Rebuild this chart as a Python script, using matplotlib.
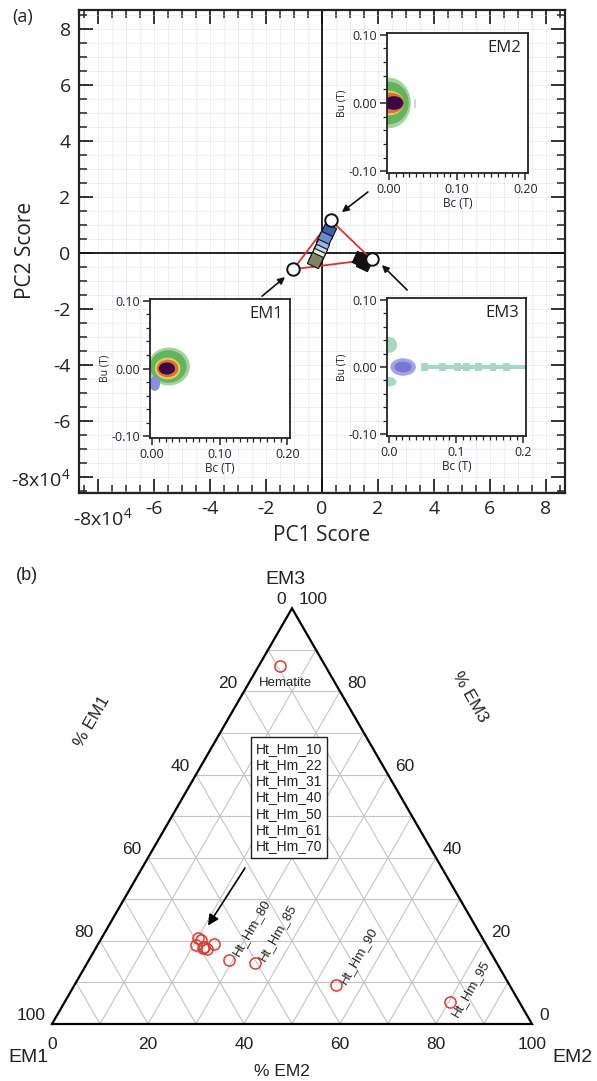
import numpy as np
import matplotlib
matplotlib.use("Agg")
import matplotlib.pyplot as plt
from matplotlib.patches import Ellipse, Rectangle
from matplotlib.ticker import MultipleLocator

plt.rcParams['mathtext.fontset'] = 'custom'
plt.rcParams['mathtext.rm'] = 'Open Sans'
plt.rcParams['mathtext.it'] = 'Open Sans'
plt.rcParams['mathtext.bf'] = 'Open Sans'

FA = ['Open Sans', 'DejaVu Sans']
FB = ['Liberation Sans', 'DejaVu Sans']

# ---------------- data: panel (a) ----------------
em_names = ['EM1', 'EM2', 'EM3']
em_pc1 = [-1.02, 0.31, 1.77]
em_pc2 = [-0.58, 1.18, -0.23]

sample_pc1 = [0.23, 0.08, -0.05, -0.12, -0.18, -0.24, 1.36, 1.50]
sample_pc2 = [0.80, 0.50, 0.22, 0.02, -0.12, -0.24, -0.20, -0.34]
sample_col = ['#3d5db0', '#6a8cd2', '#98b4e4', '#c5d6f0', '#e4ecdc', '#7f8462', '#111111', '#111111']

main_ticks = [-8, -6, -4, -2, 0, 2, 4, 6, 8]
main_ylabels = ['-8x10$^{4}$', '-6', '-4', '-2', '0', '2', '4', '6', '8']
main_xlabels = ['', '-6', '-4', '-2', '0', '2', '4', '6', '8']

# arrows (tail -> tip) in PC space
arrow_tail_pc1 = [-2.14, 1.64, 3.04]
arrow_tail_pc2 = [-1.54, 2.18, -1.32]
arrow_tip_pc1 = [-1.32, 0.71, 2.14]
arrow_tip_pc2 = [-0.86, 1.46, -0.43]

# inset maps (Bc, Bu centres, half widths, colours)
em1_bc = [0.025, 0.024, 0.023, 0.023, 0.022, 0.004]
em1_bu = [0.003, 0.003, 0.0, 0.0, 0.0, -0.022]
em1_hw = [0.031, 0.027, 0.019, 0.016, 0.012, 0.008]
em1_hh = [0.028, 0.024, 0.016, 0.013, 0.009, 0.011]
em1_col = ['#a5d39a', '#5fb65c', '#e5d24c', '#df6e3a', '#3a0848', '#8c8ce0']

em2_bc = [0.0, 0.0, 0.0, 0.002, 0.007]
em2_bu = [0.0, 0.0, 0.0, 0.0, 0.0]
em2_hw = [0.032, 0.029, 0.022, 0.020, 0.014]
em2_hh = [0.037, 0.031, 0.018, 0.015, 0.010]
em2_col = ['#a5d39a', '#5fb65c', '#e5d24c', '#df6e3a', '#3a0848']

em3_bc = [0.021, 0.021, 0.0, 0.0]
em3_bu = [0.0, 0.0, 0.033, -0.022]
em3_hw = [0.019, 0.013, 0.012, 0.011]
em3_hh = [0.013, 0.008, 0.012, 0.007]
em3_col = ['#a3a3e6', '#7777d6', '#a6d9c4', '#a6d9c4']
em3_band = [0.048, 0.204]
em3_sq_bc = [0.053, 0.080, 0.102, 0.115, 0.133, 0.155, 0.175]

# ---------------- data: panel (b) ----------------
tern_names = ['Hematite', 'Ht_Hm_10', 'Ht_Hm_22', 'Ht_Hm_31', 'Ht_Hm_40', 'Ht_Hm_50',
              'Ht_Hm_61', 'Ht_Hm_70', 'Ht_Hm_80', 'Ht_Hm_85', 'Ht_Hm_90', 'Ht_Hm_95']
tern_em2 = [4.5, 20.1, 20.9, 20.5, 22.3, 23.3, 24.1, 22.4, 29.2, 34.9, 54.5, 80.3]
tern_em3 = [86.1, 20.7, 20.2, 19.0, 18.3, 18.0, 19.2, 18.5, 15.4, 14.7, 9.4, 5.3]
tern_em1 = [100 - a - b for a, b in zip(tern_em2, tern_em3)]
legend_names = tern_names[1:8]
tern_ticks = [0, 20, 40, 60, 80, 100]

W, H = 597, 1081
fig = plt.figure(figsize=(W / 100, H / 100), dpi=100)


def px_rect(x0, y0, x1, y1):
    return [x0 / W, 1 - y1 / H, (x1 - x0) / W, (y1 - y0) / H]


# ================= panel (a) =================
ax = fig.add_axes(px_rect(79, 10, 565, 493))
ax.set_xlim(-8.679, 8.679)
ax.set_ylim(-8.571, 8.679)
ax.set_xticks(main_ticks)
ax.set_yticks(main_ticks)
ax.set_xticklabels(main_xlabels, fontfamily=FA)
ax.set_yticklabels(main_ylabels, fontfamily=FA)
ax.xaxis.set_minor_locator(MultipleLocator(0.5))
ax.yaxis.set_minor_locator(MultipleLocator(0.5))
ax.tick_params(which='both', direction='in', top=True, right=True, color='#222222',
               labelcolor='#222222')
ax.tick_params(which='major', length=10, width=1.3, labelsize=14)
ax.tick_params(axis='y', which='major', pad=6)
ax.tick_params(axis='x', which='major', pad=5)
ax.tick_params(which='minor', length=6, width=1.1)
for s in ax.spines.values():
    s.set_linewidth(1.6)
    s.set_color('#222222')
ax.set_axisbelow(True)
ax.grid(which='both', color='#d6d9f0', linestyle=(0, (1.2, 1.2)), linewidth=0.6)
ax.axhline(0, color='#111111', lw=1.3, zorder=1)
ax.axvline(0, color='#111111', lw=1.3, zorder=1)

ax.annotate('-8x10$^{4}$', xy=(-7.82, 0), xycoords=('data', 'axes fraction'),
            xytext=(0, -18), textcoords='offset points', ha='center', va='center',
            fontsize=14, fontfamily=FA, color='#222222')
ax.set_xlabel('PC1 Score', fontsize=15, fontfamily=FA, color='#222222')
ax.set_ylabel('PC2 Score', fontsize=15, fontfamily=FA, color='#222222')
ax.xaxis.set_label_coords(0.5, -0.066)
ax.yaxis.set_label_coords(-0.088, 0.503)

tri_x = em_pc1 + [em_pc1[0]]
tri_y = em_pc2 + [em_pc2[0]]
ax.plot(tri_x, tri_y, color='#e0302a', lw=1.3, zorder=3)
for x, y, c in zip(sample_pc1, sample_pc2, sample_col):
    ax.plot(x, y, marker=(4, 0, 20), ms=12.5, mfc=c, mec='#111111', mew=0.8, ls='none', zorder=4)
ax.plot(em_pc1, em_pc2, 'o', ms=9, mfc='white', mec='#111111', mew=1.4, zorder=5)
for tx, ty, hx, hy in zip(arrow_tail_pc1, arrow_tail_pc2, arrow_tip_pc1, arrow_tip_pc2):
    ax.annotate('', xy=(hx, hy), xytext=(tx, ty),
                arrowprops=dict(arrowstyle='-|>', color='#111111', lw=1.2, mutation_scale=10,
                                shrinkA=0, shrinkB=0))

ax.text(-0.115, 0.985, '(a)', transform=ax.transAxes, fontsize=13, fontfamily=FA,
        ha='center', va='center', color='#222222')


def setup_inset(rect, name, xlabels, bcs, bus, hws, hhs, cols):
    a = fig.add_axes(px_rect(*rect))
    a.set_xlim(-0.003, 0.204)
    a.set_ylim(-0.1025, 0.1025)
    a.set_xticks([0.0, 0.1, 0.2])
    a.set_xticklabels(xlabels, fontfamily=FA)
    a.set_yticks([-0.1, 0.0, 0.1])
    a.set_yticklabels(['-0.10', '0.00', '0.10'], fontfamily=FA)
    a.xaxis.set_minor_locator(MultipleLocator(0.01))
    a.yaxis.set_minor_locator(MultipleLocator(0.02))
    a.tick_params(which='both', direction='out', color='#222222', labelcolor='#222222')
    a.tick_params(which='major', length=5, width=1.1, labelsize=9, pad=2)
    a.tick_params(which='minor', length=3, width=0.9)
    for s in a.spines.values():
        s.set_linewidth(1.3)
        s.set_color('#222222')
    a.set_xlabel('Bc (T)', fontsize=8.5, fontfamily=FA, labelpad=1, color='#222222')
    a.set_ylabel('Bu (T)', fontsize=7.5, fontfamily=FA, labelpad=1, color='#222222')
    a.text(0.95, 0.95, name, transform=a.transAxes, ha='right', va='top',
           fontsize=12, fontfamily=FA, color='#222222')
    for bc, bu, hw, hh, c in zip(bcs, bus, hws, hhs, cols):
        a.add_patch(Ellipse((bc, bu), 2 * hw, 2 * hh, facecolor=c, edgecolor='none'))
    return a


ax_em2 = setup_inset((387, 33, 528, 173), 'EM2', ['0.00', '0.10', '0.20'],
                     em2_bc, em2_bu, em2_hw, em2_hh, em2_col)
ax_em2.add_patch(Rectangle((0.036, -0.008), 0.003, 0.014, facecolor='#d4d4e8', edgecolor='none'))
ax_em1 = setup_inset((150, 299, 290, 438), 'EM1', ['0.00', '0.10', '0.20'],
                     em1_bc, em1_bu, em1_hw, em1_hh, em1_col)
ax_em3 = setup_inset((387, 298, 526, 436), 'EM3', ['0.0', '0.1', '0.2'],
                     em3_bc, em3_bu, em3_hw, em3_hh, em3_col)
ax_em3.add_patch(Rectangle((em3_band[0], -0.003), em3_band[1] - em3_band[0], 0.006,
                           facecolor='#a6d9c4', edgecolor='none'))
for bc in em3_sq_bc:
    ax_em3.add_patch(Rectangle((bc - 0.005, -0.006), 0.010, 0.012,
                               facecolor='#a6d9c4', edgecolor='none'))

# ================= panel (b) =================
axb = fig.add_axes([0, 0, 1, (H - 560) / H])
axb.set_xlim(-52 / 480, (W - 52) / 480)
axb.set_ylim((1024 - H) / 480, (1024 - 560) / 480)
axb.axis('off')
S3 = np.sqrt(3) / 2


def tern(e1, e2, e3):
    s = e1 + e2 + e3
    return (e2 + e3 / 2) / s, e3 * S3 / s


# grid
for i in range(1, 10):
    f = i * 10
    for p, q in [((100 - f, 0, f), (0, 100 - f, f)),
                 ((100 - f, f, 0), (0, f, 100 - f)),
                 ((f, 100 - f, 0), (f, 0, 100 - f))]:
        x0, y0 = tern(*p)
        x1, y1 = tern(*q)
        axb.plot([x0, x1], [y0, y1], color='#c4c4c4', lw=0.8, zorder=1)
# outline
vx = [tern(100, 0, 0)[0], tern(0, 100, 0)[0], tern(0, 0, 100)[0], tern(100, 0, 0)[0]]
vy = [tern(100, 0, 0)[1], tern(0, 100, 0)[1], tern(0, 0, 100)[1], tern(100, 0, 0)[1]]
axb.plot(vx, vy, color='black', lw=1.6, zorder=2, solid_joinstyle='miter')

tk = dict(fontsize=12.5, fontfamily=FB, color='#222222', textcoords='offset points')
for v in tern_ticks:
    axb.annotate(str(v), tern(100 - v, v, 0), xytext=(0, -14.5), ha='center', va='center', **tk)
    axb.annotate(str(v), tern(v, 0, 100 - v), xytext=(-4.5, 6), ha='right', va='center', **tk)
    axb.annotate(str(v), tern(0, 100 - v, v), xytext=(5, 6), ha='left', va='center', **tk)

lab = dict(fontfamily=FB, color='#222222', ha='center', va='center')
axb.text((285 - 52) / 480, (1024 - 580) / 480, 'EM3', fontsize=14, **lab)
axb.text((28 - 52) / 480, (1024 - 1058) / 480, 'EM1', fontsize=14, **lab)
axb.text((572 - 52) / 480, (1024 - 1058) / 480, 'EM2', fontsize=14, **lab)
axb.text((282 - 52) / 480, (1024 - 1072) / 480, '% EM2', fontsize=12.5, **lab)
axb.text((92 - 52) / 480, (1024 - 722) / 480, '% EM1', fontsize=12.5, rotation=60, **lab)
axb.text((470 - 52) / 480, (1024 - 697) / 480, '% EM3', fontsize=12.5, rotation=-60, **lab)
axb.text((27 - 52) / 480, (1024 - 576) / 480, '(b)', fontsize=13, **lab)

txy = [tern(a, b, c) for a, b, c in zip(tern_em1, tern_em2, tern_em3)]
axb.plot([p[0] for p in txy], [p[1] for p in txy], 'o', ms=8, mfc='none', mec='#e03a32',
         mew=1.1, zorder=5)

pl = dict(fontsize=9.5, fontfamily=FB, color='#222222', textcoords='offset points',
          rotation=60, rotation_mode='anchor', ha='left', va='center')
offs = {'Ht_Hm_80': (4.5, 3.5), 'Ht_Hm_85': (5, 2), 'Ht_Hm_90': (5, 1.5), 'Ht_Hm_95': (3.5, -10)}
for name, p in zip(tern_names, txy):
    if name in offs:
        axb.annotate(name, p, xytext=offs[name], **pl)
    elif name == 'Hematite':
        axb.annotate(name, p, xytext=(4, -12), ha='center', va='center', fontsize=9.5,
                     fontfamily=FB, color='#222222', textcoords='offset points')

axb.text(0.494, 0.472, '\n'.join(legend_names), ha='center', va='center', fontsize=10,
         fontfamily=FB, color='#222222', linespacing=1.2, zorder=6,
         bbox=dict(boxstyle='square,pad=0.35', fc='white', ec='#222222', lw=1.0))
axb.annotate('', xy=(0.325, 0.205), xytext=(0.402, 0.325),
             arrowprops=dict(arrowstyle='-|>', color='black', lw=1.2, mutation_scale=16,
                             shrinkA=0, shrinkB=0), zorder=6)

fig.savefig('out.png', dpi=100)
